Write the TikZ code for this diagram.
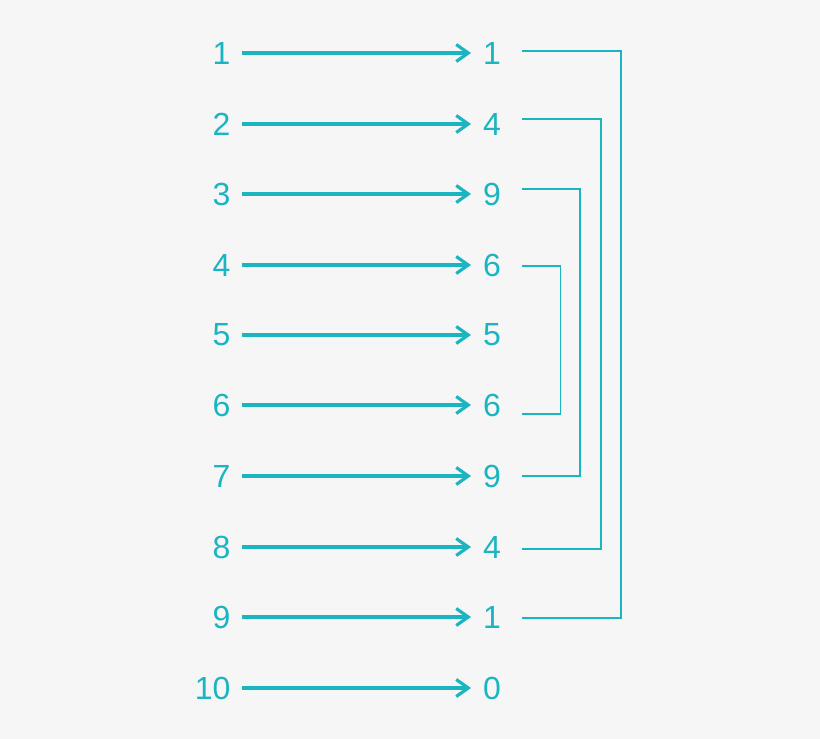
\documentclass[tikz,border=0pt]{standalone}
\usepackage{fontspec}
\setmainfont{Liberation Sans}
\usetikzlibrary{arrows.meta}
\definecolor{teal1}{HTML}{1BB5C1}
\definecolor{bg}{HTML}{F6F6F6}
\begin{document}
\begin{tikzpicture}[x=1pt,y=-1pt,
  num/.style={inner sep=0pt,outer sep=0pt,text=teal1,font=\fontsize{32}{32}\selectfont},
  arr/.style={draw=teal1,line width=3.2pt,-{Straight Barb[length=12pt,width=17pt,line width=3.2pt]},shorten <=11pt,shorten >=12pt},
  br/.style={draw=teal1,line width=1.7pt}]
\fill[bg] (0,0) rectangle (820,739);
\useasboundingbox (0,0) rectangle (820,739);
\foreach \i/\o/\y in {1/1/53,2/4/124,3/9/194,4/6/265,5/5/335,6/6/405,7/9/476,8/4/547,9/1/617,10/0/688}{
  \node[num,anchor=east] (l\i) at (230.5,\y) {\i};
  \node[num,anchor=west] (r\i) at (483,\y) {\o};
  \draw[arr] (l\i.east) -- (r\i.west);
}
\coordinate (a1) at (522,51);  \coordinate (a9) at (522,618);
\coordinate (a2) at (522,119); \coordinate (a8) at (522,549);
\coordinate (a3) at (522,189); \coordinate (a7) at (522,476);
\coordinate (a4) at (522,266); \coordinate (a6) at (522,414);
\draw[br] (a1) -- (621,51) -- (621,618) -- (a9);
\draw[br] (a2) -- (601,119) -- (601,549) -- (a8);
\draw[br] (a3) -- (580,189) -- (580,476) -- (a7);
\draw[br] (a4) -- (560.5,266) -- (560.5,414) -- (a6);
\end{tikzpicture}
\end{document}
